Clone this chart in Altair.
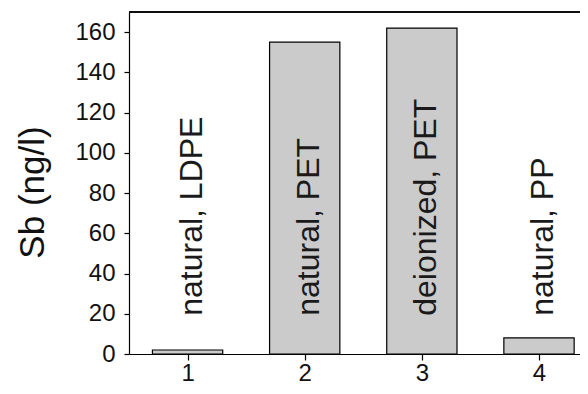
import altair as alt
import pandas as pd

categories = [1, 2, 3, 4]
values = [2, 155, 162, 8]
labels = ["natural, LDPE", "natural, PET", "deionized, PET", "natural, PP"]
y_ticks = [0, 20, 40, 60, 80, 100, 120, 140, 160]

df = pd.DataFrame({"cat": categories, "val": values, "label": labels})

FONT = "Liberation Sans"
xscale = alt.Scale(domain=[0.5, 4.35], nice=False, zero=False)
yscale = alt.Scale(domain=[0, 170], nice=False)

base = alt.Chart(df)

bars = base.mark_bar(fill="#cbcbcb", stroke="#000000", strokeWidth=1.2).transform_calculate(
    x0="datum.cat - 0.3", x1="datum.cat + 0.3"
).encode(
    x=alt.X("x0:Q", scale=xscale,
            axis=alt.Axis(values=categories, format="d", title=None, grid=False,
                          tickSize=6, tickColor="#000", domainColor="#000",
                          labelFont=FONT, labelFontSize=24, labelColor="#111",
                          labelPadding=1, domainWidth=1.2, tickWidth=1.2)),
    x2="x1:Q",
    y=alt.Y("val:Q", scale=yscale,
            axis=alt.Axis(values=y_ticks, title="Sb (ng/l)", grid=False,
                          tickSize=5, tickColor="#000", domainColor="#000",
                          labelFont=FONT, labelFontSize=24, labelColor="#111",
                          labelPadding=9, domainWidth=1.2, tickWidth=1.2,
                          titleFont=FONT, titleFontSize=35, titleFontWeight="normal",
                          titleColor="#111", titlePadding=24, titleY=180)),
    y2=alt.datum(0),
)

text = base.mark_text(angle=270, align="left", baseline="middle", font=FONT,
                      fontSize=32, color="#1a1a1a", dx=0, dy=4).encode(
    x=alt.X("cat:Q", scale=xscale),
    y=alt.Y("val:Q", scale=yscale),
    text="label:N",
).transform_calculate(val="19")

top = alt.Chart(df).mark_rule(color="#000", strokeWidth=1.2).encode(y=alt.value(0))

chart = alt.layer(bars, text, top).properties(
    width=451, height=342,
    autosize=alt.AutoSizeParams(type="none"),
    padding={"left": 121, "top": 4, "right": 0, "bottom": 30},
).configure_view(stroke=None)

chart.save("out.html", embed_options={"renderer": "svg", "actions": False})
